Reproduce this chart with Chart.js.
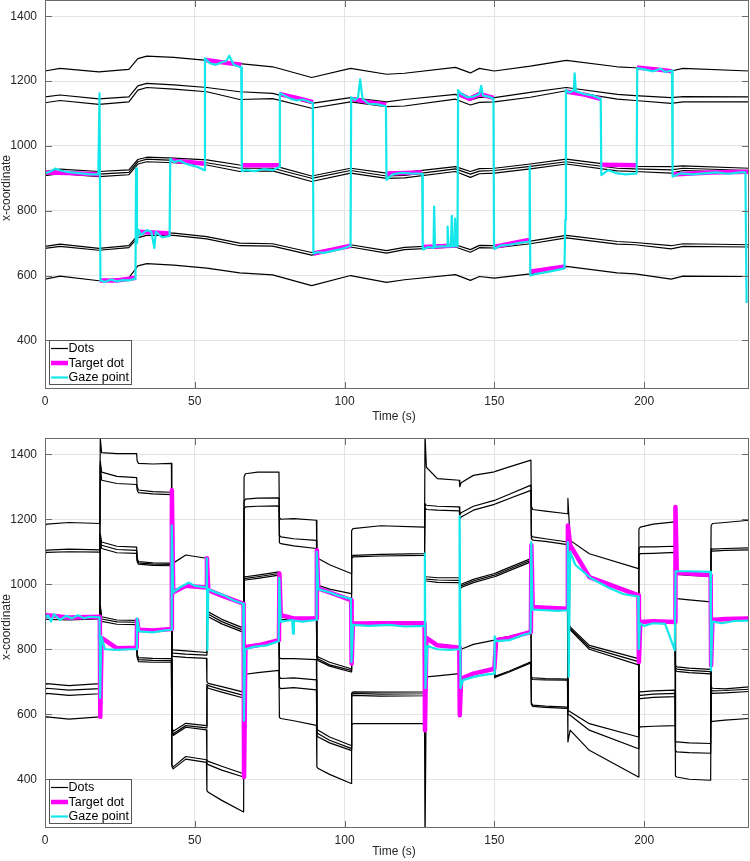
<!DOCTYPE html>
<html>
<head>
<meta charset="utf-8">
<script src="https://cdn.jsdelivr.net/npm/chart.js@4.4.1/dist/chart.umd.min.js"></script>
<style>
  html, body { margin: 0; padding: 0; background: #fff; }
  body { width: 750px; height: 861px; position: relative; overflow: hidden; }
  canvas { position: absolute; left: 0; }
  #topChart { top: 0; }
  #bottomChart { top: 437px; }
</style>
</head>
<body>
<canvas id="topChart" width="750" height="430"></canvas>
<canvas id="bottomChart" width="750" height="424"></canvas>
<script>
// Axes
const xTicks = [0, 50, 100, 150, 200];
const yTicks = [400, 600, 800, 1000, 1200, 1400];
const xTitle = "Time (s)";
const yTitle = "x-coordinate";
const legendLabels = ["Dots", "Target dot", "Gaze point"];

// ---------- Top panel ----------
const topTime = [0, 5, 18, 28, 31, 34, 43, 54, 65, 76, 89, 102, 114, 120, 137, 142, 145, 150, 162, 174, 191, 197, 209, 213, 235];
const topDotA  = [1231,1239,1228,1236,1269,1277,1273,1264,1254,1244,1211,1239,1221,1224,1242,1225,1239,1231,1246,1264,1244,1241,1231,1239,1231];
const topDotB  = [1151,1157,1145,1151,1185,1193,1188,1180,1167,1162,1131,1149,1136,1143,1159,1141,1150,1149,1165,1180,1159,1155,1149,1152,1151];
const topDotC  = [1133,1140,1128,1136,1172,1180,1175,1167,1143,1146,1116,1136,1121,1123,1144,1126,1134,1136,1150,1170,1144,1140,1131,1136,1136];
const topDotD  = [921,928,921,926,958,965,962,957,941,940,907,931,916,918,936,921,930,931,944,959,939,937,936,938,931];
const topDotE  = [913,920,913,918,951,959,955,948,931,931,900,924,907,909,929,913,922,924,937,951,931,929,926,931,924];
const topDotF  = [908,914,905,911,944,951,948,941,921,923,890,916,900,901,921,903,914,916,929,944,923,921,916,924,918];
const topDotG1 = [690,697,684,692,725,731,731,720,700,698,671,695,677,687,695,680,693,692,706,724,705,702,692,698,695];
const topDotG2 = [684,690,678,686,717,724,724,713,692,691,663,688,669,680,688,672,686,685,698,716,697,695,682,690,688];
const topDotH  = [589,598,584,593,630,637,632,623,608,602,569,600,579,587,603,585,597,592,605,628,608,605,589,598,597];

// target: [time, x] with null between trials
const topTarget = [
  [0,918],[8,916],[18.2,912],[18.25,null],[18.3,585],[24,585],[30.4,593],[30.45,null],
  [30.5,735],[36,733],[42,730],[42.05,null],[42.1,955],[48,950],[53.4,945],[53.45,null],
  [53.5,1265],[59,1258],[65.5,1250],[65.55,null],[65.6,940],[72,940],[78.1,940],[78.15,null],
  [78.2,1160],[84,1148],[89.5,1135],[89.55,null],[89.6,668],[96,680],[102.1,692],[102.15,null],
  [102.2,1145],[108,1135],[113.9,1128],[113.95,null],[114,915],[120,916],[125.9,918],[125.95,null],
  [126,688],[132,690],[137.7,693],[137.75,null],[137.8,1162],[141.7,1145],[145,1160],[149.7,1148],[149.75,null],
  [149.8,688],[156,700],[161.6,710],[161.65,null],[161.7,612],[168,620],[173.8,628],[173.85,null],
  [173.9,1168],[180,1158],[185.5,1145],[185.55,null],[185.6,942],[192,941],[197.5,940],[197.55,null],
  [197.6,1242],[204,1236],[209.3,1230],[209.35,null],[209.4,912],[222,918],[235,920]
];

const topGaze = [
  [0,915],[2,922],[3.5,930],[5,925],[7,920],[9,918],[12,915],[15,912],[17.8,912],[18.2,1162],
  [18.5,585],[20,580],[22,588],[24,582],[26,586],[28,585],[30.2,590],[30.4,931],[30.7,700],[31.2,742],
  [32,725],[34,740],[35.5,735],[36.5,685],[37,735],[39,718],[41.6,722],[41.8,960],[43,950],[45,955],
  [47,945],[49,940],[51,935],[53.2,925],[53.4,1270],[55,1255],[57,1250],[59,1258],[60.5,1262],[61.5,1278],
  [63,1250],[65.5,1242],[65.7,922],[67,925],[70,922],[73,928],[76,925],[78.2,935],[78.4,1162],[80,1155],
  [82,1145],[84,1140],[86,1143],[89.4,1132],[89.6,668],[91,672],[93,670],[96,676],[99,682],[102,692],
  [102.2,1150],[103.5,1142],[104.5,1150],[105.2,1205],[106,1145],[108,1130],[111,1128],[113.8,1122],[114,895],[116,912],
  [119,917],[122,915],[125.9,914],[126.1,680],[128,688],[129.7,685],[129.9,813],[130.2,688],[132,690],[134.2,690],
  [134.4,751],[134.7,690],[135.5,690],[135.8,784],[136.1,690],[136.7,690],[136.9,776],[137.2,692],[137.7,690],[137.9,1172],
  [139,1160],[141,1150],[143,1152],[145,1160],[145.6,1185],[146.2,1155],[148,1152],[149.7,1145],[149.9,682],[152,692],
  [155,695],[158,700],[161.6,705],[161.8,936],[162,600],[164,605],[167,610],[170,615],[173.4,622],[173.7,772],
  [173.9,1172],[175,1165],[176.5,1170],[176.8,1224],[177.2,1168],[180,1160],[183,1155],[185.5,1145],[185.7,910],[188,925],
  [191,915],[194,912],[197.5,915],[197.7,1240],[200,1236],[203,1230],[205.5,1238],[207,1228],[209.3,1232],[209.5,905],
  [212,915],[216,912],[220,915],[224,918],[228,914],[232,918],[233.8,918],[234.2,515]
];

// ---------- Bottom panel (4 samples per trial) ----------
const botTime = [
  0,0.6,8,18.3,  18.45,18.9,24,30.6,  30.75,31.2,36,42.2,  42.35,42.8,47,53.9,
  54.05,54.5,59,66.3,  66.45,66.9,71,78.1,  78.25,78.7,83,90.6,  90.75,91.2,95,102.2,
  102.35,102.8,112,126.7,  126.85,127.3,131,138.3,  138.45,138.9,143,150,  150.15,150.6,155,162.2,
  162.35,162.8,167,174.4,  174.55,175.3,181.7,198.1,  198.25,198.7,203,210.3,  210.45,210.9,215,222.2,
  222.35,222.8,227,235
];
const botDot1 = [1180,1185,1190,1187, 1450,1405,1402,1402, 1380,1372,1370,1372, 1060,1065,1090,1080,
  918,915,892,865, 1330,1340,1345,1345, 1205,1200,1202,1197, 1085,1079,1060,1033,
  1165,1171,1180,1176, 1460,1360,1325,1320, 1300,1312,1335,1346, 1346,1348,1361,1382,
  1240,1230,1225,1217, 1264,1135,1094,1048, 1170,1176,1185,1192, 960,956,952,946, 1180,1187,1190,1197];
const botDot2 = [1100,1105,1108,1106, 1378,1345,1332,1328, 1300,1290,1285,1283, 800,798,795,790,
  912,908,885,858, 1255,1262,1265,1266, 1150,1146,1140,1135, 1000,997,985,971,
  1085,1089,1092,1094, 1248,1243,1240,1238, 1215,1220,1240,1258, 1258,1260,1277,1305,
  1150,1146,1140,1130, 889,869,812,771, 1110,1115,1115,1117, 750,746,742,738, 1110,1108,1110,1112];
const botDot3 = [1095,1098,1100,1099, 1368,1320,1310,1307, 1290,1282,1278,1276, 790,788,785,782,
  905,900,878,852, 1232,1238,1240,1241, 1128,1125,1118,1110, 780,776,760,740,
  1080,1084,1087,1089, 1235,1230,1228,1226, 1200,1207,1228,1246, 1246,1248,1264,1289,
  1140,1136,1132,1122, 885,864,806,762, 1090,1094,1095,1098, 743,739,735,731, 1104,1102,1104,1106];
const botDot4 = [905,902,900,902, 1155,1130,1117,1114, 1080,1070,1066,1065, 780,778,775,772,
  700,695,685,668, 1025,1023,1028,1038, 900,898,896,898, 775,770,752,735,
  883,882,881,882, 1025,1023,1020,1020, 990,1000,1015,1033, 1033,1035,1052,1079,
  935,932,930,927, 880,860,800,752, 886,886,888,886, 736,732,728,724, 898,895,893,895];
const botDot5 = [895,892,890,893, 1145,1120,1107,1104, 1075,1066,1062,1061, 560,548,572,565,
  692,688,676,658, 1018,1018,1023,1033, 893,892,890,892, 770,765,748,730,
  877,876,876,877, 1018,1016,1013,1012, 985,995,1010,1028, 1028,1030,1047,1074,
  928,926,925,922, 612,608,571,530, 880,881,883,881, 515,515,512,510, 892,889,888,890];
const botDot6 = [690,694,688,694, 1135,1110,1097,1095, 1070,1062,1058,1057, 552,540,565,558,
  686,680,668,650, 1012,1013,1018,1028, 775,771,771,768, 555,551,530,504,
  665,669,668,669, 1012,1010,1006,1005, 980,990,1005,1023, 1023,1025,1042,1069,
  715,712,710,708, 600,597,551,494, 672,669,672,674, 488,484,482,480, 684,680,678,684];
const botDot7 = [676,680,674,679, 935,900,890,889, 785,774,772,771, 545,535,560,552,
  458,455,440,417, 810,810,815,830, 715,710,712,706, 545,540,520,495,
  660,664,662,663, 835,835,815,808, 790,800,815,828, 830,832,840,856,
  710,707,706,705, 515,551,489,407, 662,658,662,664, 410,407,400,397, 676,672,673,677];
const botDot8 = [660,664,658,663, 928,893,884,883, 780,768,766,765, 445,438,470,460,
  448,445,428,407, 804,804,809,825, 683,679,682,675, 535,530,512,489,
  655,658,656,657, 829,829,809,802, 712,712,727,742, 715,718,733,761,
  635,628,625,622, 1178,1118,1025,970, 652,648,652,654, 1040,1035,1033,1030, 668,664,666,670];
const botDot9 = [590,592,585,592, 920,886,877,876, 775,762,760,760, 440,432,462,452,
  365,360,335,299, 720,723,728,735, 590,587,580,566, 438,433,415,387,
  568,571,571,571, 200,715,718,725, 706,706,722,737, 712,715,730,758,
  630,624,621,618, 1175,1115,1020,963, 556,561,563,565, 1032,1030,1027,1024, 576,578,582,587];
const botTarget = [895,905,898,900, 592,835,803,805, 890,860,858,862, 1289,975,995,990,
  1080,982,965,940, 407,807,812,828, 1033,905,895,895, 1105,987,975,951,
  756,879,880,880, 551,835,812,805, 597,710,725,740, 740,828,835,853,
  1120,930,928,925, 1181,1120,1022,966, 761,884,886,884, 1238,1035,1033,1028, 751,890,893,895];

const botGaze = [
  [0,893],[1,905],[2,885],[3,908],[5,890],[7,903],[9,895],[11,905],[13,895],[15,900],[18.2,898],
  [18.4,650],[18.8,840],[20,800],[24,798],[28,800],[30.5,800],
  [30.7,895],[31.5,855],[36,852],[40,858],[42.1,860],
  [42.3,1181],[42.8,975],[45,990],[48,1005],[50,995],[53.8,990],
  [54.0,1080],[54.2,797],[54.5,985],[57,975],[60,965],[63,950],[66.2,940],
  [66.4,580],[66.8,800],[70,808],[74,812],[78,825],
  [78.2,1020],[78.7,885],[82.5,890],[82.8,848],[83.1,888],[86,885],[90.5,890],
  [90.7,1100],[91.2,985],[95,975],[98,965],[102.1,955],
  [102.3,760],[102.8,875],[108,872],[115,875],[120,870],[126.6,872],
  [126.8,1094],[127.0,680],[127.6,810],[131,800],[135,798],[138.2,800],
  [138.4,1210],[138.7,680],[139.5,705],[143,715],[147,722],[149.9,725],
  [150.1,840],[150.5,825],[155,828],[160,845],[162.1,850],
  [162.3,1130],[162.7,922],[167,920],[171,918],[174.3,920],
  [174.5,1130],[174.8,715],[175.3,1100],[177,1060],[182,1020],[188,990],[193,970],[198,962],
  [198.2,800],[198.6,880],[200,872],[203,880],[207,878],[210.2,797],
  [210.5,1040],[212,1040],[215,1040],[222.1,1038],
  [222.3,735],[222.8,885],[226,880],[230,887],[235,888]
];

const DOT_COLOR = "#000000";
const TARGET_COLOR = "#ff00ff";
const GAZE_COLOR = "#14e6ea";
const FONT = "'Liberation Sans', Arial, Helvetica, sans-serif";

const toXY = (times, vals) => times.map((t, i) => ({ x: t, y: vals[i] }));
const pairsToXY = (pairs) => pairs.map(([t, v]) => ({ x: t, y: v }));

function buildDatasets(times, dots, target, gaze) {
  const sets = dots.map((vals) => ({
    data: toXY(times, vals),
    borderColor: DOT_COLOR,
    borderWidth: 1.2,
    order: 2,
  }));
  sets.push({ data: target, borderColor: TARGET_COLOR, borderWidth: 4.5, order: 1 });
  sets.push({ data: gaze, borderColor: GAZE_COLOR, borderWidth: 2.2, order: 0 });
  return sets;
}

// frame, inward ticks, legend box and axis titles (MATLAB style)
const decor = {
  id: "decor",
  afterDraw(chart, args, opts) {
    const { ctx, chartArea: a, scales } = chart;
    ctx.save();
    ctx.lineWidth = 1;
    ctx.strokeStyle = "#6a6a6a";
    const line = (x1, y1, x2, y2) => { ctx.beginPath(); ctx.moveTo(x1, y1); ctx.lineTo(x2, y2); ctx.stroke(); };

    xTicks.forEach((v) => {
      const x = Math.round(scales.x.getPixelForValue(v)) + 0.5;
      line(x, a.bottom, x, a.bottom - 7);
      line(x, a.top, x, a.top + 7);
    });
    yTicks.forEach((v) => {
      const y = Math.round(scales.y.getPixelForValue(v)) + 0.5;
      line(a.left, y, a.left + 7, y);
      line(a.right, y, a.right - 7, y);
    });
    ctx.strokeRect(a.left + 0.5, a.top + 0.5, a.right - a.left - 1, a.bottom - a.top - 1);

    // legend
    const bw = 82, bh = 44;
    const bx = a.left + 4.5, by = a.bottom - 4.5 - bh;
    ctx.fillStyle = "#fff";
    ctx.fillRect(bx, by, bw, bh);
    ctx.strokeStyle = "#555";
    ctx.strokeRect(bx, by, bw, bh);
    const styles = [[DOT_COLOR, 1.2], [TARGET_COLOR, 4.5], [GAZE_COLOR, 2.2]];
    const rowY = [8, 22.5, 37];
    ctx.font = "12.5px " + FONT;
    ctx.textAlign = "left";
    ctx.textBaseline = "middle";
    legendLabels.forEach((label, i) => {
      const y = by + rowY[i];
      ctx.strokeStyle = styles[i][0];
      ctx.lineWidth = styles[i][1];
      line(bx + 1.5, y, bx + 18.5, y);
      ctx.fillStyle = "#000";
      ctx.fillText(label, bx + 19, y + 0.5);
    });

    // axis titles
    ctx.fillStyle = "#262626";
    ctx.font = "12px " + FONT;
    ctx.textAlign = "center";
    ctx.fillText(xTitle, opts.xTitleX, opts.xTitleY);
    ctx.translate(6.5, opts.yTitleY);
    ctx.rotate(-Math.PI / 2);
    ctx.fillText(yTitle, 0, 0);
    ctx.restore();
  },
};

function noEdgePadding(s) {
  s.paddingTop = 0; s.paddingBottom = 0; s.paddingLeft = 0; s.paddingRight = 0;
}

function makeChart(id, datasets, padTop, axisHeight, titles) {
  const tickFont = { family: FONT, size: 12 };
  return new Chart(document.getElementById(id), {
    type: "line",
    data: { datasets },
    options: {
      responsive: false,
      animation: false,
      devicePixelRatio: 1,
      layout: { padding: { top: padTop, right: 1, left: 0, bottom: 0 } },
      elements: {
        point: { radius: 0 },
        line: { tension: 0, borderJoinStyle: "round", borderCapStyle: "butt" },
      },
      datasets: { line: { spanGaps: false, clip: 0 } },
      plugins: { legend: { display: false }, tooltip: { enabled: false }, decor: titles },
      scales: {
        x: {
          type: "linear", min: 0, max: 235,
          afterBuildTicks: (s) => { s.ticks = xTicks.map((v) => ({ value: v })); },
          afterFit: (s) => { s.height = axisHeight; noEdgePadding(s); },
          grid: { color: "#e4e4e4", drawTicks: false },
          border: { display: false },
          ticks: { font: tickFont, color: "#262626", padding: 5, maxRotation: 0, callback: (v) => String(v) },
        },
        y: {
          type: "linear", min: 250, max: 1450,
          afterBuildTicks: (s) => { s.ticks = yTicks.map((v) => ({ value: v })); },
          afterFit: (s) => { s.width = 45; noEdgePadding(s); },
          grid: { color: "#e4e4e4", drawTicks: false },
          border: { display: false },
          ticks: { font: tickFont, color: "#262626", padding: 8, callback: (v) => String(v) },
        },
      },
    },
    plugins: [decor],
  });
}

makeChart(
  "topChart",
  buildDatasets(topTime, [topDotA, topDotB, topDotC, topDotD, topDotE, topDotF, topDotG1, topDotG2, topDotH],
    pairsToXY(topTarget), pairsToXY(topGaze)),
  0, 41, { xTitleX: 394, xTitleY: 416.5, yTitleY: 188 }
);

makeChart(
  "bottomChart",
  buildDatasets(botTime, [botDot1, botDot2, botDot3, botDot4, botDot5, botDot6, botDot7, botDot8, botDot9],
    toXY(botTime, botTarget), pairsToXY(botGaze)),
  1, 33, { xTitleX: 394, xTitleY: 415, yTitleY: 190 }
);
</script>
</body>
</html>
